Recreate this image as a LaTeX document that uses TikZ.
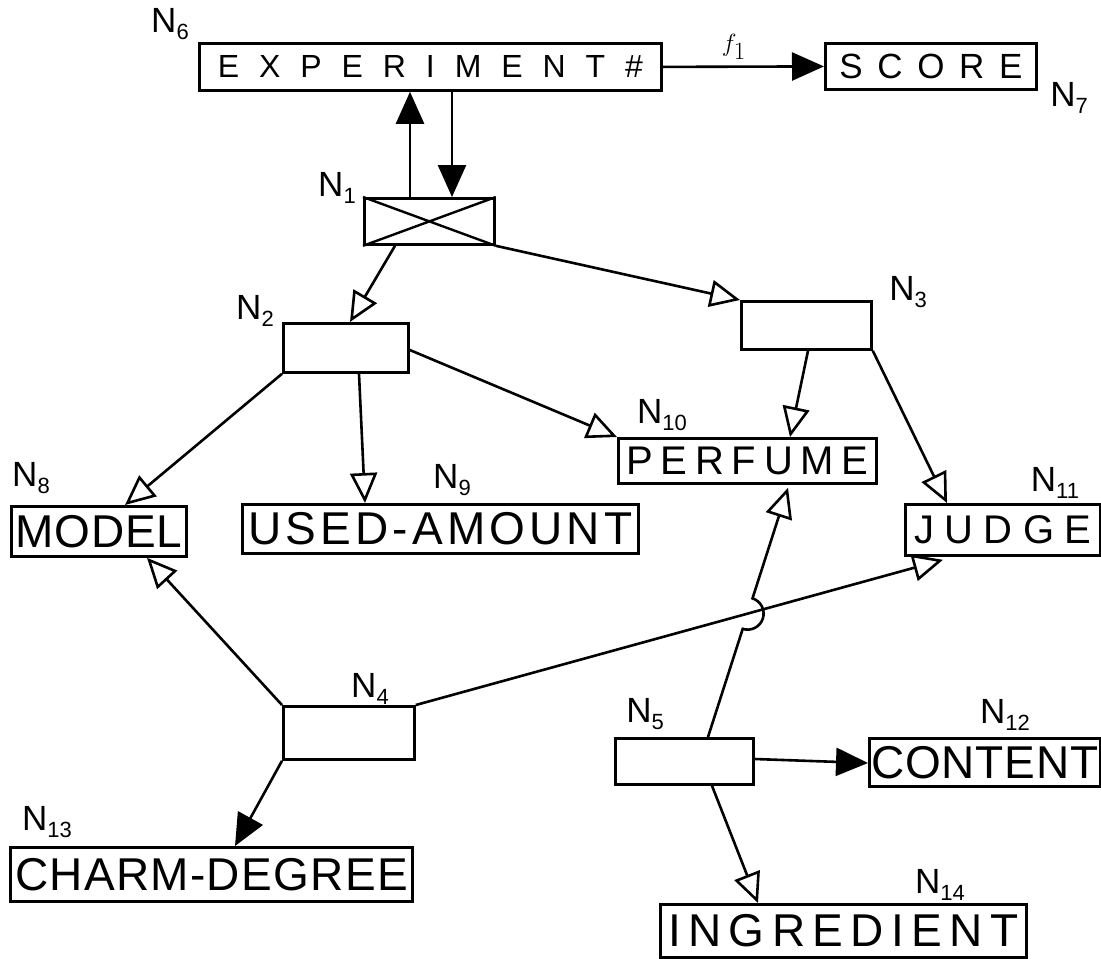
\documentclass[tikz,border=0pt]{standalone}
\usepackage{fontspec}
\setmainfont{Liberation Sans}
\usetikzlibrary{arrows.meta,calc,intersections}

\def\spr#1{\sprA#1\relax}
\def\sprA#1{\ifx#1\relax\else\hfil#1\hfil\expandafter\sprA\fi}
\newcommand\boxtext[2]{\makebox[#1][s]{\spr{#2}}}
\newcommand\nlab[1]{N\raisebox{-0.35ex}{\fontsize{22}{22}\selectfont #1}}

\begin{document}
\begin{tikzpicture}[x=1pt,y=1pt,
  box/.style={draw, line width=2.8pt, inner sep=0pt, anchor=north west},
  lbl/.style={inner sep=0pt, font=\fontsize{35}{35}\selectfont},
  conn/.style={line width=2.6pt},
  opentip/.style={-{Triangle[open,length=30pt,width=27pt]}},
  filltip/.style={-{Triangle[length=32pt,width=28pt]}},
  bigtxt/.style={font=\fontsize{46}{46}\selectfont},
  midtxt/.style={font=\fontsize{40}{40}\selectfont}]
\useasboundingbox (0,0) rectangle (1101,-959);

% boxes
\node[box, minimum width=462pt, minimum height=47pt, font=\fontsize{32}{32}\selectfont] (n6) at (198,-42) {\boxtext{445pt}{EXPERIMENT\#}};
\node[box, minimum width=211pt, minimum height=46pt, font=\fontsize{35}{35}\selectfont] (n7) at (824,-42) {\boxtext{198pt}{SCORE}};
\node[box, minimum width=130pt, minimum height=46pt] (n1) at (363,-197) {};
\draw[line width=2.4pt] (n1.north west) -- (n1.south east) (n1.south west) -- (n1.north east);
\node[box, minimum width=125pt, minimum height=49pt] (n2) at (282,-322) {};
\node[box, minimum width=130pt, minimum height=48pt] (n3) at (740,-300) {};
\node[box, minimum width=131pt, minimum height=53pt] (n4) at (282,-705) {};
\node[box, minimum width=138pt, minimum height=46pt] (n5) at (614,-737) {};
\node[box, minimum width=175pt, minimum height=50pt, bigtxt] (n8) at (10,-505) {\boxtext{168pt}{MODEL}};
\node[box, minimum width=396pt, minimum height=49pt, bigtxt] (n9) at (241,-503) {\boxtext{388pt}{USED-AMOUNT}};
\node[box, minimum width=258pt, minimum height=45pt, midtxt] (n10) at (617,-437) {\boxtext{250pt}{PERFUME}};
\node[box, minimum width=195pt, minimum height=51pt, midtxt] (n11) at (904,-503) {\boxtext{188pt}{JUDGE}};
\node[box, minimum width=231pt, minimum height=48pt, bigtxt] (n12) at (868,-737) {\boxtext{228pt}{CONTENT}};
\node[box, minimum width=402pt, minimum height=54pt, bigtxt] (n13) at (9,-846) {\boxtext{394pt}{CHARM-DEGREE}};
\node[box, minimum width=366pt, minimum height=53pt, bigtxt] (n14) at (659,-903) {\boxtext{358pt}{INGREDIENT}};

% labels
\node[lbl] (l6) at (170,-24) {\nlab{6}};
\node[lbl] (l7) at (1069,-98) {\nlab{7}};
\node[lbl] (l1) at (337,-188) {\nlab{1}};
\node[lbl] (l2) at (255,-311) {\nlab{2}};
\node[lbl] (l3) at (908,-292) {\nlab{3}};
\node[lbl] (l4) at (370,-689) {\nlab{4}};
\node[lbl] (l5) at (645,-714) {\nlab{5}};
\node[lbl] (l8) at (31,-478) {\nlab{8}};
\node[lbl] (l9) at (452,-480) {\nlab{9}};
\node[lbl] (l10) at (662,-415) {\nlab{10}};
\node[lbl] (l11) at (1055,-483) {\nlab{11}};
\node[lbl] (l12) at (1005,-715) {\nlab{12}};
\node[lbl] (l13) at (47,-822) {\nlab{13}};
\node[lbl] (l14) at (940,-885) {\nlab{14}};

% connectors
\draw[conn, filltip] ([xshift=47pt]n1.north west) -- ([xshift=47pt]n1.north west |- n6.south);
\draw[conn, filltip] ([xshift=89pt]n1.north west |- n6.south) -- ([xshift=89pt]n1.north west);
\draw[conn, filltip] (n6.east) -- node[pos=0.44, above=3pt, font=\fontsize{46}{46}\selectfont] (f1) {$f_1$} (n7.west);
\draw[conn, opentip] ([xshift=32pt]n1.south west) -- ([xshift=68pt]n2.north west);
\draw[conn, opentip] (n1.south east) -- (n3.north west);
\draw[conn, opentip] (n2.south west) -- ([xshift=115pt]n8.north west);
\draw[conn, opentip] ([xshift=77pt]n2.south west) -- ([xshift=124pt]n9.north west);
\draw[conn, opentip] ([yshift=-28pt]n2.north east) -- (n10.north west);
\draw[conn, opentip] ([xshift=68pt]n3.south west) -- ([xshift=173pt]n10.north west);
\draw[conn, opentip] (n3.south east) -- ([xshift=43pt]n11.north west);
\draw[conn, opentip] (n4.north west) -- ([xshift=137pt]n8.south west);
\draw[conn, opentip, name path=lineA] (n4.north east) -- ([xshift=39pt,yshift=-3pt]n11.south west);
\draw[conn, filltip] (n4.south west) -- ([xshift=226pt]n13.north west);
\coordinate (s5) at ([xshift=94pt]n5.north west);
\coordinate (t10) at ([xshift=171pt,yshift=-3pt]n10.south west);
\path[name path=lineB] (s5) -- (t10);
\path[name intersections={of=lineA and lineB, by=X}];
\draw[conn, opentip] let \p1 = ($(t10)-(s5)$), \n1 = {atan2(\y1,\x1)} in
  (s5) -- ($(X)!16pt!(s5)$) arc[start angle=\n1+180, delta angle=180, radius=16pt] -- (t10);
\draw[conn, filltip] ([yshift=-22pt]n5.north east) -- ([yshift=-26pt]n12.north west);
\draw[conn, opentip] ([xshift=98pt]n5.south west) -- ([xshift=99pt]n14.north west);
\end{tikzpicture}
\end{document}
